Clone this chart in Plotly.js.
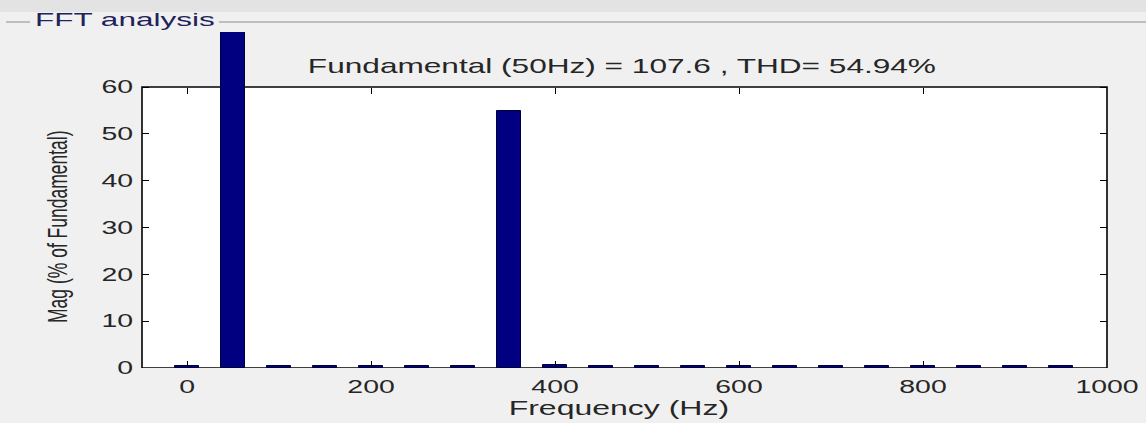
<!DOCTYPE html>
<html>
<head>
<meta charset="utf-8">
<script src="https://cdn.plot.ly/plotly-3.0.1.min.js"></script>
<style>
  html, body { margin: 0; padding: 0; background: #f0f0f0; }
  #chart { width: 1146px; height: 423px; }
</style>
</head>
<body>
<div id="chart"></div>
<script>
// ---- data ----
const freqs = [0, 50, 100, 150, 200, 250, 300, 350, 400, 450, 500, 550, 600, 650, 700, 750, 800, 850, 900, 950];
const mags  = [0.4, 100, 0.35, 0.35, 0.4, 0.35, 0.35, 54.9, 0.7, 0.35, 0.35, 0.35, 0.4, 0.35, 0.35, 0.35, 0.4, 0.35, 0.35, 0.35];
const xTickVals = [0, 200, 400, 600, 800, 1000];
const yTickVals = [0, 10, 20, 30, 40, 50, 60];
const titleText = 'Fundamental (50Hz) = 107.6 , THD= 54.94%';
const panelText = 'FFT analysis';
const xTitle = 'Frequency (Hz)';
const yTitle = 'Mag (% of Fundamental)';
const yLimit = 60;

// ---- geometry (pixels) ----
const W = 1146, H = 423;
const L = 142, R = 1107, T = 32, B = 368, FRAME_TOP = 87;
const yMax = yLimit * (B - T) / (B - FRAME_TOP);
const xRange = [-49, 1000];
const px = x => (x - L) / (R - L);
const py = y => (B - y) / (B - T);
const STRETCH = 1.58;   // the reference's text is drawn horizontally wide

const FONT = 'Liberation Sans, Arial, sans-serif';
const tickFont = {family: FONT, size: 18, color: '#262626'};

const traces = [
  {
    type: 'bar', x: freqs, y: mags, width: 26,
    marker: {color: '#000080', line: {color: '#00003a', width: 1}},
    hoverinfo: 'x+y', showlegend: false
  },
  { type: 'scatter', x: [], y: [], xaxis: 'x2', yaxis: 'y', showlegend: false, hoverinfo: 'skip' }
];

const layout = {
  width: W, height: H,
  margin: {l: L, r: W - R, t: T, b: H - B, pad: 0},
  paper_bgcolor: '#f0f0f0',
  plot_bgcolor: 'rgba(0,0,0,0)',
  showlegend: false,
  bargap: 0,
  title: {
    text: titleText,
    font: {family: FONT, size: 20, color: '#262626'},
    xref: 'paper', yref: 'paper',
    x: px(622), xanchor: 'center',
    y: py(66), yanchor: 'middle'
  },
  xaxis: {
    range: xRange, tickvals: xTickVals, ticktext: xTickVals.map(String),
    ticks: 'inside', ticklen: 7, tickwidth: 1, tickcolor: '#000',
    showline: false, showgrid: false, zeroline: false,
    tickfont: tickFont, ticklabelstandoff: 6, fixedrange: true
  },
  xaxis2: {
    overlaying: 'x', anchor: 'free', position: yLimit / yMax, side: 'top',
    range: xRange, tickvals: xTickVals,
    ticks: 'inside', ticklen: 6, tickwidth: 1, tickcolor: '#000',
    showticklabels: false, showline: false, showgrid: false, zeroline: false, fixedrange: true
  },
  yaxis: {
    range: [0, yMax], tickvals: yTickVals, ticktext: yTickVals.map(String),
    ticks: 'inside', ticklen: 7, tickwidth: 1, tickcolor: '#000', mirror: 'ticks',
    showline: false, showgrid: false, zeroline: false,
    tickfont: tickFont, ticklabelstandoff: 8, fixedrange: true
  },
  shapes: [
    {type: 'rect', xref: 'paper', yref: 'paper', x0: px(0), x1: px(W), y0: py(12), y1: py(0),
     fillcolor: '#e3e3e3', line: {width: 0}, layer: 'below'},
    {type: 'line', xref: 'paper', yref: 'paper', x0: px(6), x1: px(30), y0: py(22), y1: py(22),
     line: {color: '#8c8c8c', width: 1}, layer: 'below'},
    {type: 'line', xref: 'paper', yref: 'paper', x0: px(219), x1: px(W), y0: py(22), y1: py(22),
     line: {color: '#8c8c8c', width: 1}, layer: 'below'},
    {type: 'rect', xref: 'paper', yref: 'y', x0: 0, x1: 1, y0: 0, y1: yLimit,
     fillcolor: '#ffffff', line: {color: '#000000', width: 1.6}, layer: 'below'}
  ],
  annotations: [
    {text: panelText, xref: 'paper', yref: 'paper', x: px(125), y: py(20),
     xanchor: 'center', yanchor: 'middle', showarrow: false,
     font: {family: FONT, size: 17.5, color: '#22225a'}},
    {text: yTitle, xref: 'paper', yref: 'paper', x: px(58), y: py(227),
     xanchor: 'center', yanchor: 'middle', textangle: -90, showarrow: false,
     font: {family: FONT, size: 17.5, color: '#262626'}},
    {text: xTitle, xref: 'paper', yref: 'paper', x: px(619), y: py(408),
     xanchor: 'center', yanchor: 'middle', showarrow: false,
     font: {family: FONT, size: 20, color: '#262626'}}
  ]
};

// widen a text element about an anchor point of its own box (local coordinates)
function widen(el, sx, sy, anchor) {
  const bb = el.getBBox();
  let ox = bb.x + bb.width / 2;
  if (anchor === 'left') ox = bb.x;
  if (anchor === 'right') ox = bb.x + bb.width;
  const oy = bb.y + bb.height / 2;
  const prev = el.getAttribute('transform') || '';
  el.setAttribute('transform',
    prev + ` translate(${ox},${oy}) scale(${sx},${sy}) translate(${-ox},${-oy})`);
}

Plotly.newPlot('chart', traces, layout, {displayModeBar: false, responsive: false}).then(gd => {
  gd.querySelectorAll('.xtick text').forEach(t => widen(t, STRETCH, 1, 'center'));
  gd.querySelectorAll('.ytick text').forEach(t => widen(t, STRETCH, 1, 'right'));
  gd.querySelectorAll('.gtitle').forEach(t => widen(t, STRETCH, 1, 'center'));
  const ann = gd.querySelectorAll('g.annotation');
  ann.forEach(g => {
    const idx = g.getAttribute('data-index');
    const t = g.querySelector('text');
    if (!t) return;
    if (idx === '0') widen(t, 1.8, 1, 'center');
    else if (idx === '1') widen(t, 1, STRETCH, 'center');   // rotated title: widen glyphs across
    else widen(t, 1.6, 1, 'center');
  });
});
</script>
</body>
</html>
